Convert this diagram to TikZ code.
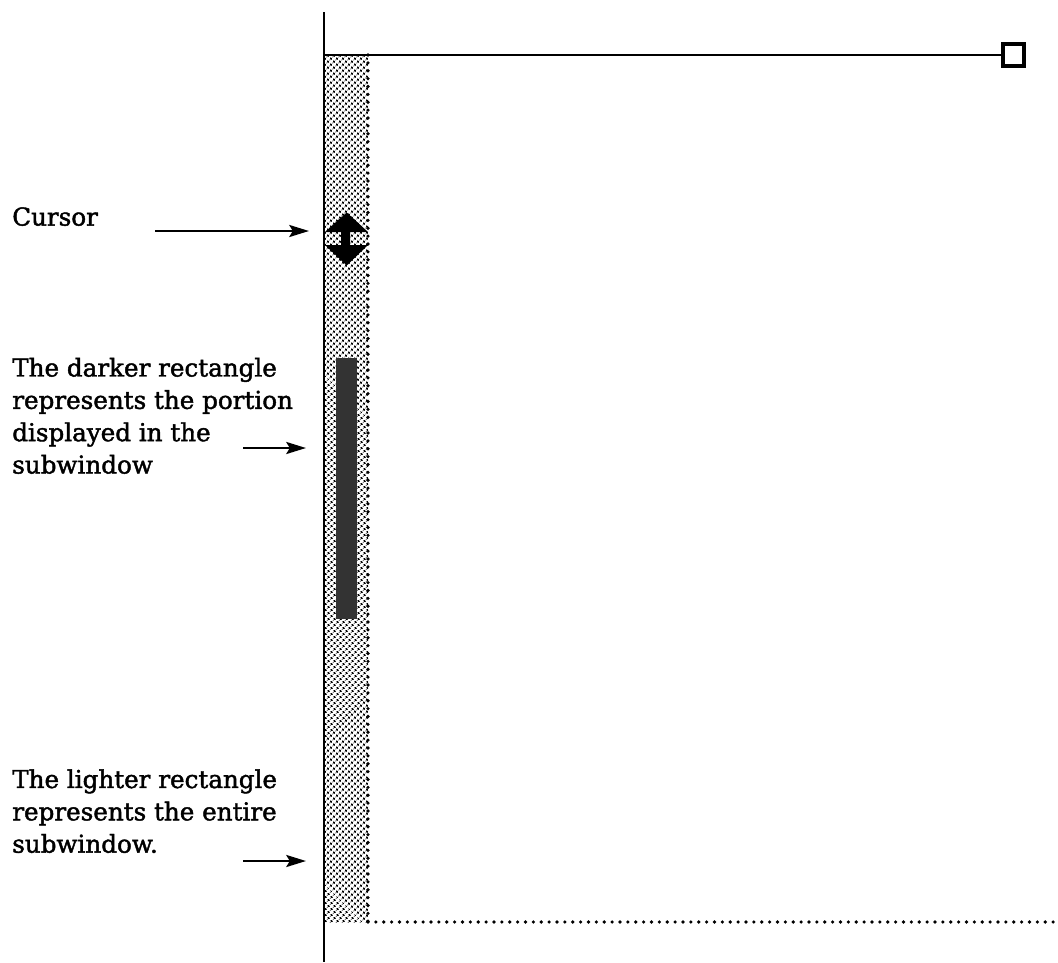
\documentclass[tikz,border=0pt]{standalone}
\usepackage{fontspec}
\setmainfont{DejaVu Serif}[RawFeature={embolden=1.7}]
\usetikzlibrary{arrows.meta,patterns.meta}
\tikzset{
  label/.style={anchor=north west,inner sep=0pt,align=left,font=\fontsize{17.5}{23}\selectfont},
  pointer/.style={-{Stealth[length=14pt,width=8.5pt,inset=2.5pt]},line width=1.9pt},
  rule/.style={line width=2pt},
  edgedots/.style={line width=2.6pt,line cap=round,dash pattern=on 0pt off 5.6pt}
}
\begin{document}
\begin{tikzpicture}[x=0.025cm,y=-0.025cm]
\useasboundingbox (0,0) rectangle (1058,962);
\fill[pattern={Dots[distance=3.35pt,radius=1.2pt,angle=45]},pattern color=black] (325,55) rectangle (368,922);
\node[fill=black!80,minimum width=21*0.025cm,minimum height=261*0.025cm,inner sep=0pt] (portion) at (346.5,488.5) {};
\node[draw=black,line width=2.6pt,fill=white,minimum size=21.5*0.025cm,inner sep=0pt] (box) at (1013.5,55) {};
\coordinate (top) at (324,12);
\coordinate (bottom) at (324,962);
\coordinate (corner) at (324,55);
\coordinate (edge1) at (368,55);
\coordinate (edge2) at (368,922);
\coordinate (edge3) at (1058,922);
\draw[rule] (top) -- (bottom);
\draw[rule] (corner) -- (box);
\draw[edgedots] (edge1) -- (edge2);
\draw[edgedots] (edge2) -- (edge3);
% cursor
\fill (346.7,212.5) -- (368,232) -- (350,232) -- (350,245) -- (368,245) -- (346.7,265.5) -- (325,245) -- (341,245) -- (341,232) -- (325,232) -- cycle;
% labels
\node[label] (cursor) at (12,207) {Cursor};
\node[label] (darker) at (12,357.5) {The darker rectangle\\represents the portion\\displayed in the\\subwindow};
\node[label] (lighter) at (12,769) {The lighter rectangle\\represents the entire\\subwindow.};
\coordinate (a1) at (155,231);
\coordinate (b1) at (309,231);
\coordinate (a2) at (243,448);
\coordinate (b2) at (306,448);
\coordinate (a3) at (243,861);
\coordinate (b3) at (306,861);
\draw[pointer] (a1) -- (b1);
\draw[pointer] (a2) -- (b2);
\draw[pointer] (a3) -- (b3);
\end{tikzpicture}
\end{document}
